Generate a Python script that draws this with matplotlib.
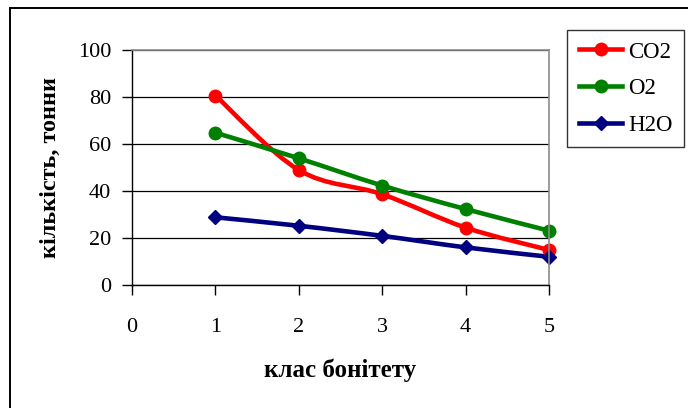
import matplotlib
matplotlib.use("Agg")
import matplotlib.pyplot as plt
import numpy as np
from matplotlib.path import Path
from matplotlib.patches import PathPatch, Rectangle
from matplotlib.lines import Line2D

plt.rcParams['font.family'] = ['Liberation Serif', 'DejaVu Serif']

klas = [1, 2, 3, 4, 5]
co2 = [80.6, 48.9, 38.6, 24.4, 14.9]
o2 = [64.8, 53.9, 42.3, 32.3, 23.1]
h2o = [28.8, 25.2, 20.9, 16.0, 12.0]

series = [
    ('CO2', co2, '#ff0000', 'o', 9),
    ('O2', o2, '#008000', 'o', 9),
    ('H2O', h2o, '#000080', 'D', 7.5),
]


def smooth_path(xs, ys):
    # piecewise cubic bezier through the points (catmull-rom style)
    p = np.column_stack((xs, ys)).astype(float)
    ext = np.vstack((p[0], p, p[-1]))
    verts = [p[0]]
    codes = [Path.MOVETO]
    for i in range(len(p) - 1):
        p0, p1, p2, p3 = ext[i], ext[i + 1], ext[i + 2], ext[i + 3]
        c1 = p1 + (p2 - p0) / 6.0
        c2 = p2 - (p3 - p1) / 6.0
        verts += [c1, c2, p2]
        codes += [Path.CURVE4] * 3
    return Path(verts, codes)


fig = plt.figure(figsize=(6.88, 4.08), dpi=100)
ax = fig.add_axes([0.1919, 0.3015, 0.6061, 0.576])

ax.set_xlim(0, 5)
ax.set_ylim(0, 100)
ax.set_xticks(range(6))
ax.set_yticks(range(0, 101, 20))
ax.yaxis.grid(True, color='black', linewidth=0.9)
ax.set_axisbelow(True)

for name, vals, col, mk, ms in series:
    patch = PathPatch(smooth_path(klas, vals), fill=False, edgecolor=col,
                      linewidth=3.3, capstyle='round', joinstyle='round',
                      clip_on=False)
    ax.add_patch(patch)
    ax.plot(klas, vals, linestyle='none', marker=mk, color=col,
            markersize=ms, clip_on=False)

for s in ['top', 'right']:
    ax.spines[s].set_color('#8c8c8c')
    ax.spines[s].set_linewidth(1.2)
for s in ['left', 'bottom']:
    ax.spines[s].set_color('black')
    ax.spines[s].set_linewidth(1.0)

ax.tick_params(axis='both', direction='out', length=7, width=1.0,
               labelsize=16, colors='black')
ax.tick_params(axis='y', pad=8)
ax.tick_params(axis='x', pad=17)

ax.set_xlabel('клас бонітету', fontsize=18, fontweight='bold', labelpad=15)
ax.set_ylabel('кількість, тонни', fontsize=17.5, fontweight='bold', labelpad=12)

handles = [Line2D([], [], color=col, marker=mk, markersize=ms, linewidth=3.3)
           for name, vals, col, mk, ms in series]
labels = [name for name, *_ in series]
leg = fig.legend(handles, labels, loc='upper right',
                 bbox_to_anchor=(684 / 688, 1 - 30 / 408),
                 bbox_transform=fig.transFigure, frameon=True, fancybox=False,
                 edgecolor='black', fontsize=16.5, handlelength=1.9,
                 handletextpad=0.25, labelspacing=0.68, borderpad=0.5,
                 borderaxespad=0)
leg.get_frame().set_linewidth(1.0)

# chart border, open on the right and bottom
fig.patches.append(Rectangle((10 / 688, -0.1), 1.2, 1 - 8 / 408 + 0.1,
                             transform=fig.transFigure, fill=False,
                             edgecolor='black', linewidth=1.4))

fig.savefig('out.png', dpi=100)
